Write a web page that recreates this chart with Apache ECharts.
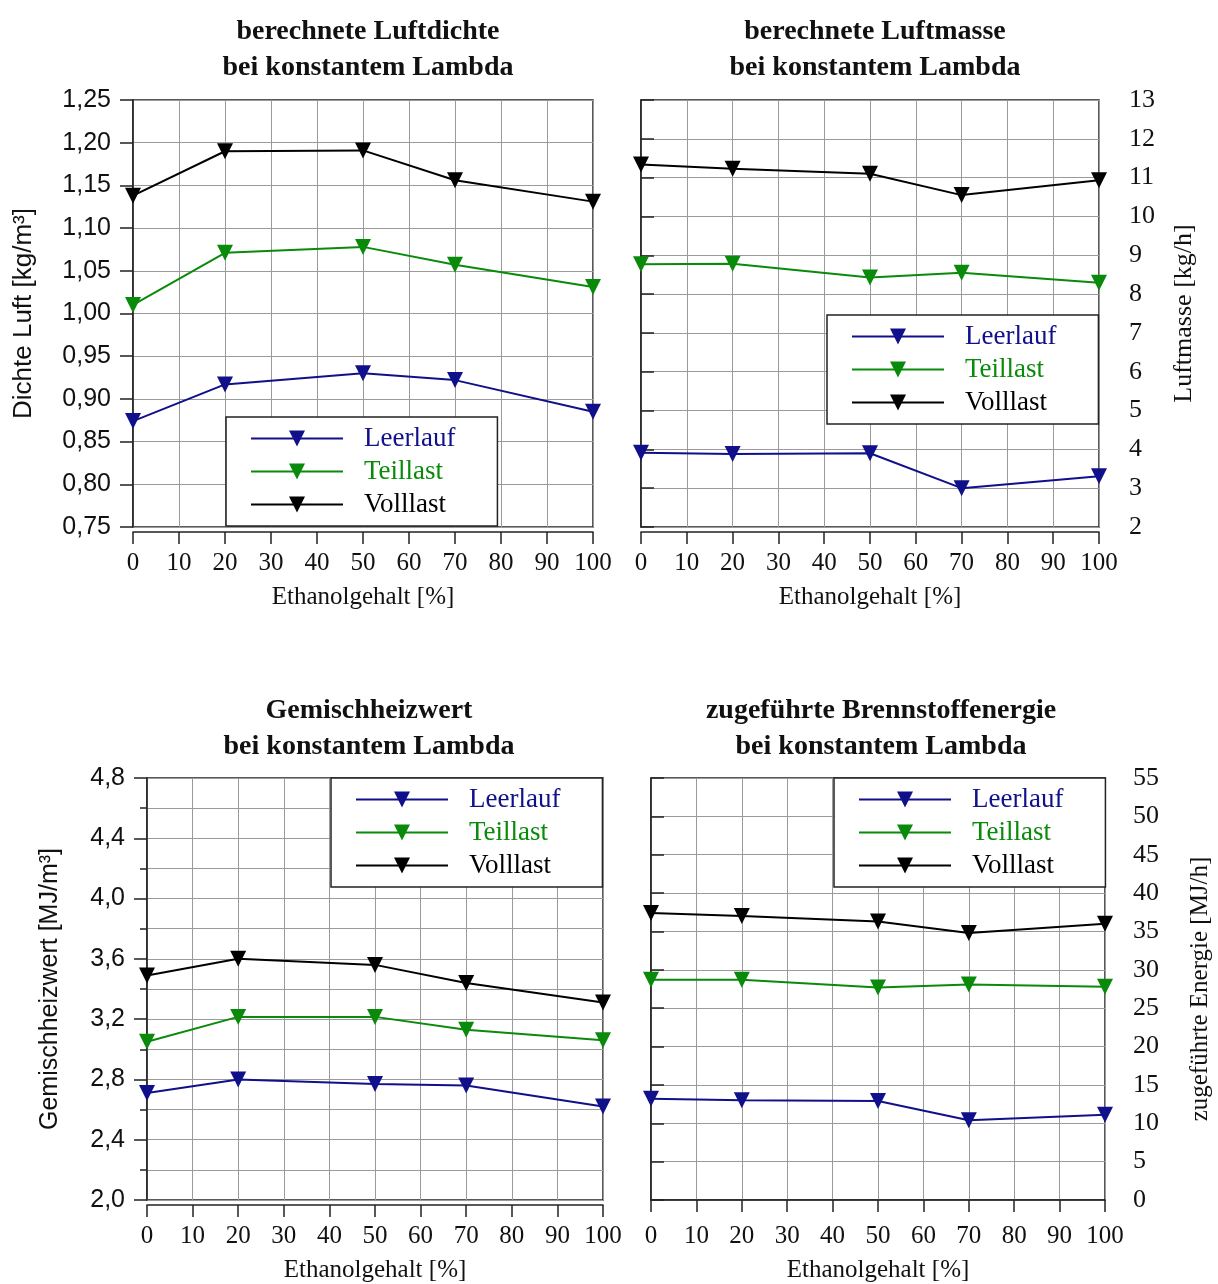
<!DOCTYPE html>
<html>
<head>
<meta charset="utf-8">
<script src="https://cdn.jsdelivr.net/npm/echarts@6/dist/echarts.min.js"></script>
<style>
  html, body { margin: 0; padding: 0; background: #fff; }
  #main { width: 1218px; height: 1284px; }
</style>
</head>
<body>
<div id="main"></div>
<script>
// Ethanolgehalt [%]
const ethanol = [0, 20, 50, 70, 100];
const serien = ['Leerlauf', 'Teillast', 'Volllast'];
const farben = ['#10108a', '#0a8a0a', '#000000'];

// berechnete Luftdichte [kg/m³]
const dichteLeer = [0.874, 0.917, 0.930, 0.922, 0.885];
const dichteTeil = [1.010, 1.071, 1.078, 1.057, 1.031];
const dichteVoll = [1.138, 1.190, 1.191, 1.156, 1.131];

// berechnete Luftmasse [kg/h]
const masseLeer = [3.91, 3.88, 3.90, 3.00, 3.31];
const masseTeil = [8.77, 8.78, 8.43, 8.55, 8.29];
const masseVoll = [11.34, 11.23, 11.10, 10.55, 10.93];

// Gemischheizwert [MJ/m³]
const heizLeer = [2.71, 2.80, 2.77, 2.76, 2.62];
const heizTeil = [3.05, 3.215, 3.215, 3.13, 3.06];
const heizVoll = [3.49, 3.60, 3.56, 3.44, 3.31];

// zugeführte Brennstoffenergie [MJ/h]
const energieLeer = [13.2, 13.0, 12.9, 10.4, 11.1];
const energieTeil = [28.7, 28.7, 27.7, 28.1, 27.8];
const energieVoll = [37.4, 37.0, 36.3, 34.8, 36.0];

const titel = [
  'berechnete Luftdichte\nbei konstantem Lambda',
  'berechnete Luftmasse\nbei konstantem Lambda',
  'Gemischheizwert\nbei konstantem Lambda',
  'zugeführte Brennstoffenergie\nbei konstantem Lambda'
];

const serif = 'Liberation Serif';
const sans = 'Liberation Sans';

const grids = [
  { left: 133, top: 100, width: 460, height: 427 },
  { left: 641, top: 100, width: 458, height: 427 },
  { left: 147, top: 778, width: 456, height: 424 },
  { left: 651, top: 778, width: 454, height: 424 }
].map(g => Object.assign(g, { show: true, borderColor: '#222', borderWidth: 1.5, backgroundColor: '#fff' }));

function komma(d) {
  return v => v.toFixed(d).replace('.', ',');
}

const xAxes = grids.map((g, i) => ({
  type: 'value', gridIndex: i, min: 0, max: 100, interval: 10, offset: 5,
  name: 'Ethanolgehalt [%]', nameLocation: 'middle', nameGap: 53,
  nameTextStyle: { fontFamily: serif, fontSize: 25, color: '#111' },
  axisLine: { show: true, lineStyle: { color: '#222', width: 1.5 } },
  axisTick: { show: true, length: 12, lineStyle: { color: '#222', width: 1.5 } },
  axisLabel: { fontFamily: serif, fontSize: 25, color: '#111', margin: 19 },
  splitLine: { show: true, lineStyle: { color: '#9a9a9a', width: 1 } }
}));

const splitGrau = { show: true, lineStyle: { color: '#9a9a9a', width: 1 } };
const achsLinie = { show: true, lineStyle: { color: '#222', width: 1.5 } };

const yAxes = [
  {
    type: 'value', gridIndex: 0, min: 0.75, max: 1.25, interval: 0.05,
    name: 'Dichte Luft [kg/m³]', nameLocation: 'middle', nameGap: 96,
    nameTextStyle: { fontFamily: sans, fontSize: 26, color: '#111' },
    axisLine: achsLinie,
    axisTick: { show: true, length: 13, lineStyle: { color: '#222', width: 1.5 } },
    axisLabel: { fontFamily: sans, fontSize: 25, color: '#111', margin: 22, formatter: komma(2) },
    splitLine: splitGrau
  },
  {
    type: 'value', gridIndex: 1, position: 'right', offset: 10, min: 2, max: 13, interval: 1,
    name: 'Luftmasse [kg/h]', nameLocation: 'middle', nameGap: 62, nameRotate: 90,
    nameTextStyle: { fontFamily: serif, fontSize: 26, color: '#111' },
    axisLine: achsLinie,
    axisTick: { show: true, length: 13, lineStyle: { color: '#222', width: 1.5 } },
    axisLabel: { fontFamily: serif, fontSize: 26, color: '#111', margin: 20 },
    splitLine: splitGrau
  },
  {
    type: 'value', gridIndex: 2, min: 2.0, max: 4.8, interval: 0.4,
    name: 'Gemischheizwert [MJ/m³]', nameLocation: 'middle', nameGap: 84,
    nameTextStyle: { fontFamily: sans, fontSize: 25, color: '#111' },
    axisLine: achsLinie,
    axisTick: { show: true, length: 13, lineStyle: { color: '#222', width: 1.5 } },
    minorTick: { show: true, splitNumber: 2, length: 7, lineStyle: { color: '#222', width: 1.5 } },
    minorSplitLine: splitGrau,
    axisLabel: { fontFamily: sans, fontSize: 25, color: '#111', margin: 22, formatter: komma(1) },
    splitLine: splitGrau
  },
  {
    type: 'value', gridIndex: 3, position: 'right', offset: 8, min: 0, max: 55, interval: 5,
    name: 'zugeführte Energie [MJ/h]', nameLocation: 'middle', nameGap: 75, nameRotate: 90,
    nameTextStyle: { fontFamily: serif, fontSize: 25, color: '#111' },
    axisLine: achsLinie,
    axisTick: { show: true, length: 13, lineStyle: { color: '#222', width: 1.5 } },
    axisLabel: { fontFamily: serif, fontSize: 26, color: '#111', margin: 20 },
    splitLine: splitGrau
  }
];

const panelDaten = [
  [dichteLeer, dichteTeil, dichteVoll],
  [masseLeer, masseTeil, masseVoll],
  [heizLeer, heizTeil, heizVoll],
  [energieLeer, energieTeil, energieVoll]
];

const series = [];
panelDaten.forEach((satz, p) => {
  satz.forEach((werte, s) => {
    series.push({
      type: 'line', name: serien[s], xAxisIndex: p, yAxisIndex: p,
      data: ethanol.map((x, k) => [x, werte[k]]),
      symbol: 'triangle', symbolRotate: 180, symbolSize: 16,
      lineStyle: { color: farben[s], width: 2 },
      itemStyle: { color: farben[s] },
      animation: false
    });
  });
});

const legendenPos = [[226, 417], [827, 315], [331, 778], [834, 778]];
const legend = legendenPos.map(p => ({
  left: p[0], top: p[1], orient: 'vertical',
  backgroundColor: '#fff', borderColor: '#222', borderWidth: 1.5, borderRadius: 0,
  padding: [8, 42, 8, 24], itemGap: 6, itemWidth: 92, itemHeight: 20,
  selectedMode: false,
  textStyle: { fontFamily: serif, fontSize: 27, padding: [0, 0, 0, 16] },
  data: serien.map((n, s) => ({ name: n, textStyle: { color: farben[s] } }))
}));

const titles = [[363, 9], [870, 9], [364, 688], [876, 688]].map((p, i) => ({
  text: titel[i], left: p[0], top: p[1], textAlign: 'center',
  textStyle: { fontFamily: serif, fontWeight: 'bold', fontSize: 28, lineHeight: 36, color: '#111' }
}));

const chart = echarts.init(document.getElementById('main'));
chart.setOption({
  backgroundColor: '#fff',
  title: titles,
  legend: legend,
  grid: grids,
  xAxis: xAxes,
  yAxis: yAxes,
  series: series
});
</script>
</body>
</html>
